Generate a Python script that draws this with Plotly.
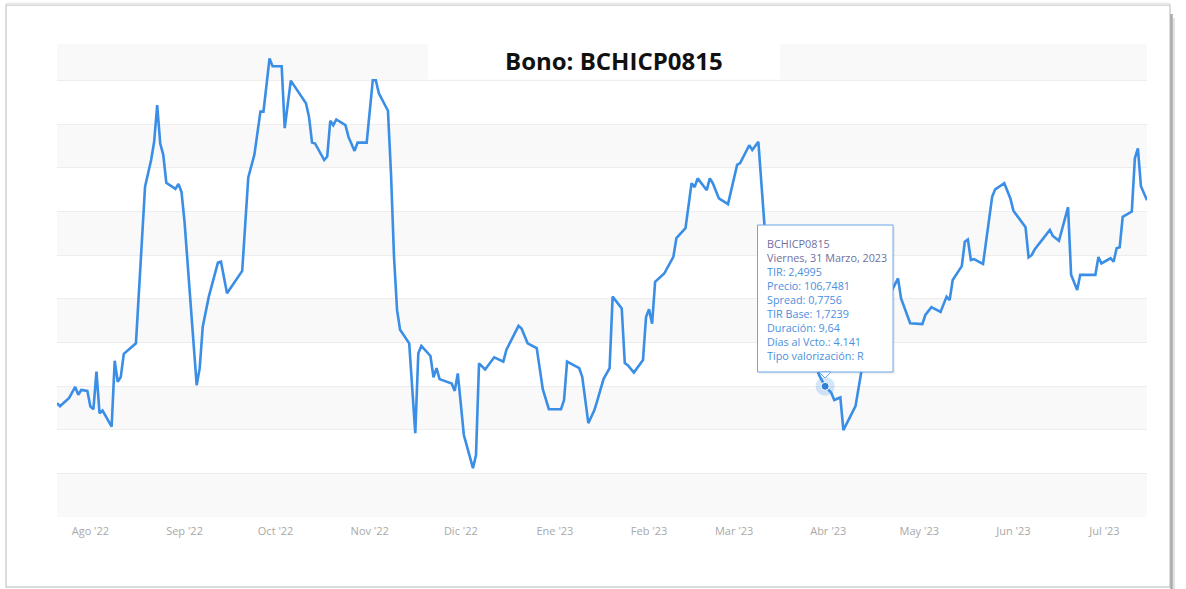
import plotly.graph_objects as go

# ── Serie diaria (TIR) del bono ─────────────────────────────────────────────
FECHAS = [
    '2022-07-21', '2022-07-22', '2022-07-25', '2022-07-27', '2022-07-28', '2022-07-29',
    '2022-07-31', '2022-08-01', '2022-08-02', '2022-08-03', '2022-08-04', '2022-08-05',
    '2022-08-08', '2022-08-09', '2022-08-10', '2022-08-11', '2022-08-12', '2022-08-16',
    '2022-08-19', '2022-08-21', '2022-08-22', '2022-08-23', '2022-08-24', '2022-08-25',
    '2022-08-26', '2022-08-29', '2022-08-30', '2022-08-31', '2022-09-01', '2022-09-05',
    '2022-09-06', '2022-09-07', '2022-09-09', '2022-09-12', '2022-09-13', '2022-09-15',
    '2022-09-20', '2022-09-22', '2022-09-24', '2022-09-26', '2022-09-27', '2022-09-29',
    '2022-09-30', '2022-10-03', '2022-10-04', '2022-10-06', '2022-10-11', '2022-10-12',
    '2022-10-13', '2022-10-14', '2022-10-17', '2022-10-18', '2022-10-19', '2022-10-20',
    '2022-10-21', '2022-10-24', '2022-10-25', '2022-10-27', '2022-10-28', '2022-10-31',
    '2022-11-02', '2022-11-03', '2022-11-04', '2022-11-07', '2022-11-08', '2022-11-09',
    '2022-11-10', '2022-11-11', '2022-11-14', '2022-11-16', '2022-11-17', '2022-11-18',
    '2022-11-21', '2022-11-22', '2022-11-23', '2022-11-24', '2022-11-28', '2022-11-29',
    '2022-11-30', '2022-12-02', '2022-12-05', '2022-12-06', '2022-12-07', '2022-12-09',
    '2022-12-12', '2022-12-15', '2022-12-16', '2022-12-20', '2022-12-21', '2022-12-23',
    '2022-12-26', '2022-12-28', '2022-12-30', '2023-01-03', '2023-01-04', '2023-01-05',
    '2023-01-09', '2023-01-10', '2023-01-12', '2023-01-14', '2023-01-15', '2023-01-17',
    '2023-01-19', '2023-01-20', '2023-01-23', '2023-01-24', '2023-01-25', '2023-01-27',
    '2023-01-30', '2023-01-31', '2023-02-01', '2023-02-02', '2023-02-03', '2023-02-06',
    '2023-02-09', '2023-02-10', '2023-02-13', '2023-02-15', '2023-02-16', '2023-02-17',
    '2023-02-20', '2023-02-21', '2023-02-22', '2023-02-24', '2023-02-27', '2023-03-02',
    '2023-03-03', '2023-03-06', '2023-03-07', '2023-03-09', '2023-03-11', '2023-03-13',
    '2023-03-17', '2023-03-22', '2023-03-26', '2023-03-29', '2023-03-31', '2023-04-02',
    '2023-04-03', '2023-04-05', '2023-04-06', '2023-04-10', '2023-04-12', '2023-04-14',
    '2023-04-19', '2023-04-24', '2023-04-25', '2023-04-28', '2023-05-02', '2023-05-03',
    '2023-05-05', '2023-05-08', '2023-05-10', '2023-05-11', '2023-05-12', '2023-05-15',
    '2023-05-16', '2023-05-17', '2023-05-18', '2023-05-19', '2023-05-22', '2023-05-25',
    '2023-05-26', '2023-05-29', '2023-05-31', '2023-06-01', '2023-06-05', '2023-06-06',
    '2023-06-07', '2023-06-08', '2023-06-13', '2023-06-14', '2023-06-16', '2023-06-19',
    '2023-06-20', '2023-06-22', '2023-06-23', '2023-06-28', '2023-06-29', '2023-06-30',
    '2023-07-03', '2023-07-04', '2023-07-05', '2023-07-06', '2023-07-07', '2023-07-10',
    '2023-07-11', '2023-07-12', '2023-07-13', '2023-07-15',
]

TIR = [
    2.461, 2.454, 2.473, 2.498, 2.480, 2.491,
    2.489, 2.453, 2.447, 2.533, 2.438, 2.444,
    2.407, 2.558, 2.510, 2.521, 2.574, 2.598,
    2.957, 3.018, 3.060, 3.144, 3.056, 3.030,
    2.966, 2.952, 2.963, 2.945, 2.877, 2.502,
    2.541, 2.636, 2.705, 2.783, 2.785, 2.713,
    2.764, 2.978, 3.030, 3.129, 3.129, 3.251,
    3.233, 3.233, 3.091, 3.200, 3.148, 3.117,
    3.058, 3.056, 3.018, 3.026, 3.108, 3.098,
    3.111, 3.098, 3.071, 3.039, 3.058, 3.058,
    3.201, 3.201, 3.171, 3.131, 2.988, 2.796,
    2.674, 2.629, 2.598, 2.392, 2.575, 2.592,
    2.569, 2.520, 2.541, 2.516, 2.506, 2.489,
    2.529, 2.388, 2.312, 2.342, 2.552, 2.538,
    2.566, 2.556, 2.583, 2.638, 2.632, 2.598,
    2.587, 2.493, 2.447, 2.447, 2.468, 2.556,
    2.541, 2.521, 2.415, 2.445, 2.468, 2.516,
    2.541, 2.705, 2.678, 2.553, 2.548, 2.531,
    2.560, 2.658, 2.676, 2.643, 2.739, 2.758,
    2.796, 2.839, 2.862, 2.965, 2.956, 2.976,
    2.949, 2.976, 2.965, 2.930, 2.917, 3.007,
    3.011, 3.052, 3.041, 3.060, 2.869, 2.777,
    2.697, 2.640, 2.583, 2.525, 2.4995, 2.485,
    2.468, 2.474, 2.399, 2.454, 2.537, 2.629,
    2.679, 2.747, 2.701, 2.644, 2.642, 2.663,
    2.681, 2.670, 2.705, 2.697, 2.743, 2.775,
    2.831, 2.836, 2.789, 2.791, 2.780, 2.934,
    2.951, 2.965, 2.930, 2.902, 2.864, 2.795,
    2.800, 2.813, 2.858, 2.844, 2.833, 2.910,
    2.755, 2.720, 2.755, 2.755, 2.796, 2.781,
    2.793, 2.785, 2.816, 2.818, 2.888, 2.900,
    3.022, 3.045, 2.958, 2.926,
]

MESES = ['2022-08-01', '2022-09-01', '2022-10-01', '2022-11-01', '2022-12-01', '2023-01-01',
         '2023-02-01', '2023-03-01', '2023-04-01', '2023-05-01', '2023-06-01', '2023-07-01']
MESES_TXT = ["Ago '22", "Sep '22", "Oct '22", "Nov '22", "Dic '22", "Ene '23",
             "Feb '23", "Mar '23", "Abr '23", "May '23", "Jun '23", "Jul '23"]

BONO = 'BCHICP0815'
PUNTO = '2023-03-31'
TIP_HEAD = ['BCHICP0815', 'Viernes, 31 Marzo, 2023']
TIP_BODY = ['TIR: 2,4995', 'Precio: 106,7481', 'Spread: 0,7756', 'TIR Base: 1,7239',
            'Duración: 9,64', 'Días al Vcto.: 4.141', 'Tipo valorización: R']

# ── Estilo ──────────────────────────────────────────────────────────────────
C = {
    'line':     '#3a8ee6',
    'band':     '#f9f9f9',
    'grid':     '#ededed',
    'tick':     '#a8a8a8',
    'title':    '#111111',
    'tip_head': '#6f6fa0',
    'tip_val':  '#4a90e0',
    'tip_bd':   '#6aa6e8',
    'frame':    '#cfcfcf',
}
W, H = 1186, 589
PL, PR, PT, PB = 57, 1147, 44, 517
Y_MIN, Y_MAX = 2.2, 3.284
X_MIN, X_MAX = '2022-07-21', '2023-07-15'


def fx(p):
    return (p - PL) / (PR - PL)


def fy(p):
    return (PB - p) / (PB - PT)


fig = go.Figure()
fig.add_trace(go.Scatter(
    x=FECHAS, y=TIR, mode='lines', name=BONO,
    line=dict(color=C['line'], width=2.6),
    hoverinfo='skip',
))

i = FECHAS.index(PUNTO)
fig.add_trace(go.Scatter(
    x=[FECHAS[i]], y=[TIR[i]], mode='markers', hoverinfo='skip',
    marker=dict(size=19, color='rgba(58,142,230,0.22)'),
))
fig.add_trace(go.Scatter(
    x=[FECHAS[i]], y=[TIR[i]], mode='markers', hoverinfo='skip',
    marker=dict(size=8, color='#2f7ed8', line=dict(color='white', width=1)),
))

shapes = []
# bandas alternas
for lo in (2.2, 2.4, 2.6, 2.8, 3.0, 3.2):
    shapes.append(dict(type='rect', xref='paper', yref='y', x0=0, x1=1,
                       y0=lo, y1=min(lo + 0.1, Y_MAX), fillcolor=C['band'],
                       line_width=0, layer='below'))
# caja blanca del título
shapes.append(dict(type='rect', xref='paper', yref='paper',
                   x0=fx(428), x1=fx(780), y0=fy(79.5), y1=fy(PT),
                   fillcolor='white', line_width=0, layer='between'))
# marco de la captura
shapes.append(dict(type='rect', xref='paper', yref='paper',
                   x0=fx(6), x1=fx(1170), y0=fy(587), y1=fy(5),
                   line=dict(color=C['frame'], width=1.5), fillcolor='rgba(0,0,0,0)'))
shapes.append(dict(type='line', xref='paper', yref='paper',
                   x0=fx(1171.5), x1=fx(1171.5), y0=fy(589), y1=fy(14),
                   line=dict(color='#a8a8a8', width=2.5)))
shapes.append(dict(type='line', xref='paper', yref='paper',
                   x0=fx(1174), x1=fx(1174), y0=fy(589), y1=fy(18),
                   line=dict(color='#e2e2e2', width=2)))
shapes.append(dict(type='line', xref='paper', yref='paper',
                   x0=fx(6), x1=fx(1170), y0=fy(3.5), y1=fy(3.5),
                   line=dict(color='#ececec', width=2)))
# tooltip
shapes.append(dict(type='rect', xref='paper', yref='paper',
                   x0=fx(759), x1=fx(895), y0=fy(374), y1=fy(227),
                   fillcolor='rgba(0,0,0,0.06)', line_width=0, layer='above'))
shapes.append(dict(type='rect', xref='paper', yref='paper',
                   x0=fx(757.5), x1=fx(893), y0=fy(372), y1=fy(225),
                   fillcolor='white', line=dict(color=C['tip_bd'], width=1), layer='above'))
shapes.append(dict(type='path', xref='paper', yref='paper', layer='above',
                   path=f'M {fx(819)},{fy(372)} L {fx(825)},{fy(378)} L {fx(831)},{fy(372)} Z',
                   fillcolor='white', line=dict(color=C['tip_bd'], width=1)))

tip = '<br>'.join([f'<span style="color:{C["tip_head"]}">{t}</span>' for t in TIP_HEAD] +
                  [f'<span style="color:{C["tip_val"]}">{t}</span>' for t in TIP_BODY])

annotations = [
    dict(text=f'<b>Bono: {BONO}</b>', xref='paper', yref='paper',
         x=fx(613.5), y=fy(60), xanchor='center', yanchor='middle', showarrow=False,
         font=dict(family='Open Sans, sans-serif', size=24, color=C['title'])),
    dict(text=tip, xref='paper', yref='paper', x=fx(765), y=fy(299.5),
         xanchor='left', yanchor='middle', align='left', showarrow=False,
         font=dict(family='Open Sans, sans-serif', size=10.8)),
]

fig.update_layout(
    width=W, height=H,
    margin=dict(l=PL, r=W - PR, t=PT, b=H - PB, pad=0),
    paper_bgcolor='white', plot_bgcolor='white',
    showlegend=False,
    font=dict(family='Open Sans, sans-serif', color=C['tick']),
    shapes=shapes, annotations=annotations,
    xaxis=dict(type='date', range=[X_MIN, X_MAX], tickvals=MESES, ticktext=MESES_TXT,
               showgrid=False, zeroline=False, showline=False, ticks='',
               ticklabelstandoff=6, tickfont=dict(size=11, color=C['tick'])),
    yaxis=dict(range=[Y_MIN, Y_MAX], tick0=2.2, dtick=0.1, showgrid=True,
               gridcolor=C['grid'], gridwidth=1, zeroline=False,
               showticklabels=False, ticks=''),
)

fig.write_html('out.html', config={'displayModeBar': False},
               post_script="document.body.style.margin='0';document.body.style.overflow='hidden';")
